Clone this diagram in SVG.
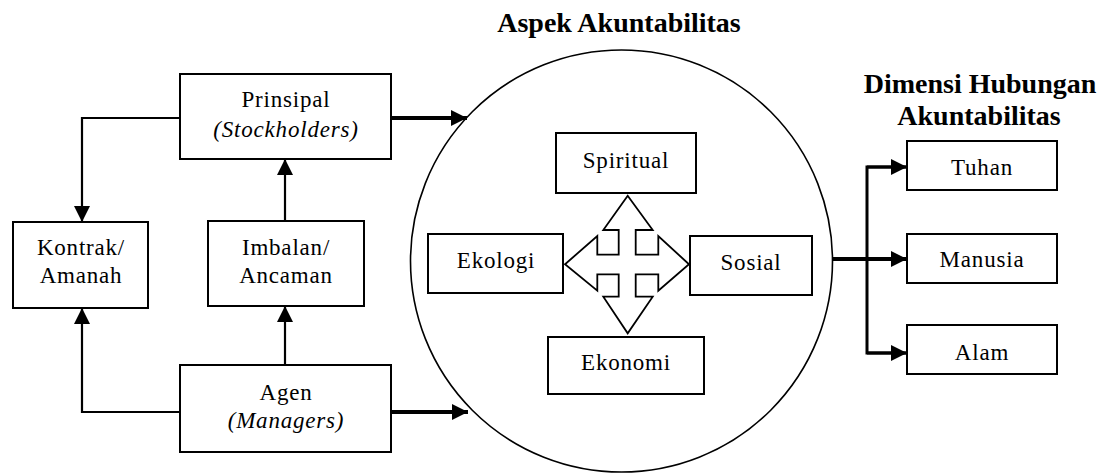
<svg xmlns="http://www.w3.org/2000/svg" width="1099" height="473" viewBox="0 0 1099 473">
<style>
.box{fill:#fff;stroke:#000;stroke-width:2}
.t{font-family:"Liberation Serif","Times New Roman",serif;font-size:23px;letter-spacing:0.8px;text-anchor:middle;fill:#000}
.i{font-style:italic}
.h{font-family:"Liberation Serif","Times New Roman",serif;font-size:28px;font-weight:bold;text-anchor:middle;fill:#000}
.ln{fill:none;stroke:#000;stroke-width:2.2}
.tk{fill:none;stroke:#000;stroke-width:4}
.md{fill:none;stroke:#000;stroke-width:3}
</style>
<defs>
<marker id="ah" markerUnits="userSpaceOnUse" viewBox="0 0 16 16" markerWidth="16" markerHeight="16" refX="16" refY="8" orient="auto">
<path d="M0,0 L16,8 L0,16 z" fill="#000"/>
</marker>
</defs>
<rect width="1099" height="473" fill="#fff"/>

<g id="titles">
<text class="h" x="619" y="32">Aspek Akuntabilitas</text>
<text class="h" x="980" y="93">Dimensi Hubungan</text>
<text class="h" x="979" y="125">Akuntabilitas</text>
</g>

<g id="circle">
<circle cx="621.5" cy="261" r="211" fill="#fff" stroke="#000" stroke-width="1.6"/>
</g>

<g id="connectors">
<polyline class="ln" points="180,118 82,118 82,222" marker-end="url(#ah)"/>
<polyline class="ln" points="180,412 82,412 82,308" marker-end="url(#ah)"/>
<line class="ln" x1="285" y1="221" x2="285" y2="159" marker-end="url(#ah)"/>
<line class="ln" x1="285" y1="365" x2="285" y2="306" marker-end="url(#ah)"/>
<line class="tk" x1="391" y1="118" x2="467" y2="118" marker-end="url(#ah)"/>
<line class="tk" x1="391" y1="412" x2="468" y2="412" marker-end="url(#ah)"/>
<line class="tk" x1="833" y1="259" x2="907" y2="259" marker-end="url(#ah)"/>
<polyline class="md" points="907,167 867,167 867,353 907,353"/>
<line class="md" x1="867" y1="167" x2="907" y2="167" marker-end="url(#ah)"/>
<line class="md" x1="867" y1="353" x2="907" y2="353" marker-end="url(#ah)"/>
</g>

<g id="cross">
<path d="M603.3,230 L618.7,230 L618.7,254.7 L597.3,254.7 L597.3,236 L565,264.3 L597.3,290.7 L597.3,274.3 L618.7,274.3 L618.7,296.7 L603.3,296.7 L627.7,333.3 L652.7,296.7 L635.7,296.7 L635.7,274.3 L658.3,274.3 L658.3,290.7 L689,264.3 L658.3,236 L658.3,254.7 L635.7,254.7 L635.7,230 L652.7,230 L627.7,195.7 Z" fill="#fff" stroke="#000" stroke-width="1.8" stroke-linejoin="miter"/>
</g>

<g id="prinsipal">
<rect class="box" x="180" y="74" width="211" height="85"/>
<text class="t" x="286" y="107">Prinsipal</text>
<text class="t i" x="286" y="137">(Stockholders)</text>
</g>
<g id="kontrak">
<rect class="box" x="13" y="222" width="135" height="86"/>
<text class="t" x="81" y="255">Kontrak/</text>
<text class="t" x="81" y="283">Amanah</text>
</g>
<g id="imbalan">
<rect class="box" x="208" y="221" width="156" height="85"/>
<text class="t" x="286" y="255">Imbalan/</text>
<text class="t" x="286" y="283">Ancaman</text>
</g>
<g id="agen">
<rect class="box" x="180" y="365" width="211" height="87"/>
<text class="t" x="286" y="400">Agen</text>
<text class="t i" x="286" y="428">(Managers)</text>
</g>
<g id="spiritual">
<rect class="box" x="556" y="133" width="140" height="60"/>
<text class="t" x="626" y="168">Spiritual</text>
</g>
<g id="ekologi">
<rect class="box" x="428" y="234" width="135" height="59"/>
<text class="t" x="496" y="268">Ekologi</text>
</g>
<g id="sosial">
<rect class="box" x="690" y="236" width="122" height="59"/>
<text class="t" x="751" y="270">Sosial</text>
</g>
<g id="ekonomi">
<rect class="box" x="548" y="337" width="156" height="57"/>
<text class="t" x="626" y="370">Ekonomi</text>
</g>
<g id="tuhan">
<rect class="box" x="907" y="141" width="150" height="49"/>
<text class="t" x="982" y="175">Tuhan</text>
</g>
<g id="manusia">
<rect class="box" x="907" y="234" width="150" height="49"/>
<text class="t" x="982" y="267">Manusia</text>
</g>
<g id="alam">
<rect class="box" x="907" y="325" width="150" height="49"/>
<text class="t" x="982" y="360">Alam</text>
</g>
</svg>
